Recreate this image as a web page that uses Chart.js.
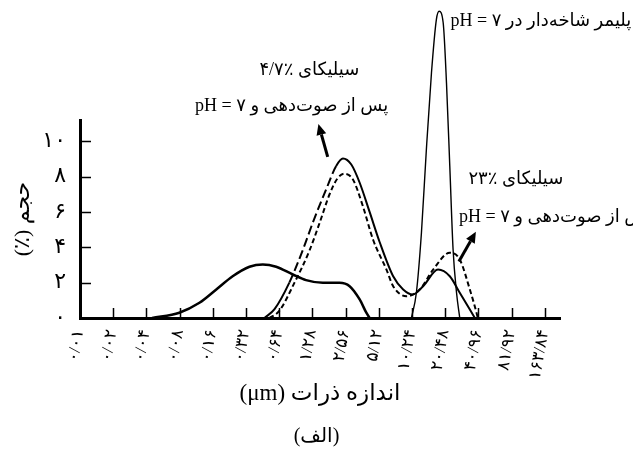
<!DOCTYPE html>
<html lang="fa">
<head>
<meta charset="UTF-8">
<title>توزیع اندازه ذرات</title>
<script src="https://cdn.jsdelivr.net/npm/chart.js"></script>
<style>
  body { margin: 0; background: #fff; }
  canvas { display: block; }
</style>
</head>
<body>
<canvas id="sizeChart" width="633" height="457" dir="rtl"></canvas>
<script>
// محور x: اندازه ذرات (میکرومتر) با گام لگاریتمی
const xTicks = [0.01, 0.02, 0.04, 0.08, 0.16, 0.32, 0.64, 1.28, 2.56, 5.12, 10.24, 20.48, 40.96, 81.92, 163.84];
const xTickLabels = ['۰/۰۱', '۰/۰۲', '۰/۰۴', '۰/۰۸', '۰/۱۶', '۰/۳۲', '۰/۶۴', '۱/۲۸', '۲/۵۶', '۵/۱۲', '۱۰/۲۴', '۲۰/۴۸', '۴۰/۹۶', '۸۱/۹۲', '۱۶۳/۸۴'];
const yTicks = [0, 2, 4, 6, 8, 10];
const yTickLabels = ['۰', '۲', '۴', '۶', '۸', '۱۰'];

// منحنی پهن (خط پیوسته)
const broadX = [0.045, 0.0795, 0.121, 0.171, 0.242, 0.344, 0.454, 0.60, 0.85, 1.12, 1.59, 2.25, 2.78, 3.43, 3.94, 4.22];
const broadY = [0, 0.3, 0.86, 1.6, 2.36, 2.9, 3.03, 2.9, 2.46, 2.14, 1.99, 1.99, 1.8, 1.05, 0.3, 0];

// سیلیکای ۴/۷٪
const silica47X = [0.47, 0.58, 0.79, 1.05, 1.29, 1.71, 2.1, 2.42, 2.88, 3.43, 4.22, 5.2, 6.9, 8.5, 10.4, 12.9, 17.6, 22.5, 27.7, 34.2, 38];
const silica47Y = [0, 0.5, 2.0, 3.87, 5.4, 7.3, 8.6, 9.02, 8.68, 7.65, 6.0, 4.3, 2.36, 1.61, 1.33, 1.8, 2.74, 2.36, 1.43, 0.48, 0];

// سیلیکای ۲۳٪
const silica23X = [0.52, 0.64, 0.88, 1.2, 1.49, 1.83, 2.16, 2.5, 2.98, 3.67, 4.53, 6.0, 6.9, 9.1, 12.0, 15.9, 22.5, 27.7, 34.2, 39.3, 40.4];
const silica23Y = [0, 0.4, 2.0, 3.8, 5.4, 7.0, 7.9, 8.16, 7.83, 6.32, 4.44, 2.74, 1.8, 1.23, 1.61, 2.74, 3.69, 3.31, 1.61, 0.3, 0];

// پلیمر شاخه‌دار
const polymerX = [10.1, 11.2, 12.45, 13.8, 15.35, 17.0, 18.0, 19.6, 21.0, 22.5, 24.1, 25.9, 27.7];
const polymerY = [0, 1.43, 4.82, 9.53, 13.87, 16.88, 17.35, 16.7, 13.3, 8.59, 3.87, 1.43, 0];

// یادداشت‌ها و پیکان‌ها (در مختصات داده)
const notes = [
  { text: 'پلیمر شاخه\u200cدار در pH = ۷', x: 150.7, y: 16.8 },
  { text: 'سیلیکای ٪۴/۷', x: 1.2, y: 14.0 },
  { text: 'پس از صوت\u200cدهی و pH = ۷', x: 0.83, y: 12.0 },
  { text: 'سیلیکای ٪۲۳', x: 89.4, y: 7.82 },
  { text: 'پس از صوت\u200cدهی و pH = ۷', x: 205, y: 5.67 }
];
const arrows = [
  { from: [1.76, 9.11], to: [1.45, 10.98] },
  { from: [27.2, 3.19], to: [38.8, 4.88] }
];

const FONT = "'Liberation Serif', 'DejaVu Sans', serif";
Chart.defaults.font.family = FONT;
Chart.defaults.color = '#000';

const zip = (xs, ys) => xs.map((x, i) => ({ x: x, y: ys[i] }));

const inwardTicks = {
  id: 'inwardTicks',
  afterDraw(chart) {
    const { ctx, chartArea, scales: { x, y } } = chart;
    ctx.save();
    ctx.strokeStyle = '#000';
    ctx.lineWidth = 1.5;
    ctx.beginPath();
    xTicks.slice(1).forEach(v => {
      const px = Math.round(x.getPixelForValue(v)) + 0.5;
      ctx.moveTo(px, chartArea.bottom);
      ctx.lineTo(px, chartArea.bottom - 10);
    });
    yTicks.slice(1).forEach(v => {
      const py = Math.round(y.getPixelForValue(v)) + 0.5;
      ctx.moveTo(chartArea.left, py);
      ctx.lineTo(chartArea.left + 11, py);
    });
    ctx.stroke();
    ctx.restore();
  }
};

function drawArrow(ctx, x1, y1, x2, y2) {
  const a = Math.atan2(y2 - y1, x2 - x1);
  const head = 11, half = 5;
  const bx = x2 - head * Math.cos(a), by = y2 - head * Math.sin(a);
  ctx.beginPath();
  ctx.moveTo(x1, y1);
  ctx.lineTo(bx, by);
  ctx.lineWidth = 3;
  ctx.stroke();
  ctx.beginPath();
  ctx.moveTo(x2, y2);
  ctx.lineTo(bx + half * Math.sin(a), by - half * Math.cos(a));
  ctx.lineTo(bx - half * Math.sin(a), by + half * Math.cos(a));
  ctx.closePath();
  ctx.fill();
}

const annotations = {
  id: 'annotations',
  afterDraw(chart) {
    const { ctx, scales: { x, y } } = chart;
    ctx.save();
    ctx.fillStyle = '#000';
    ctx.strokeStyle = '#000';
    ctx.direction = 'rtl';
    ctx.textAlign = 'center';
    ctx.textBaseline = 'middle';
    ctx.font = '18px ' + FONT;
    notes.forEach(n => {
      ctx.fillText(n.text, x.getPixelForValue(n.x), y.getPixelForValue(n.y));
    });
    arrows.forEach(a => {
      drawArrow(ctx,
        x.getPixelForValue(a.from[0]), y.getPixelForValue(a.from[1]),
        x.getPixelForValue(a.to[0]), y.getPixelForValue(a.to[1]));
    });
    ctx.restore();
  }
};

const common = {
  borderColor: '#000',
  pointRadius: 0,
  fill: false,
  clip: false,
  cubicInterpolationMode: 'monotone'
};

new Chart(document.getElementById('sizeChart'), {
  type: 'line',
  data: {
    datasets: [
      { ...common, label: 'broad', data: zip(broadX, broadY), borderWidth: 2.5 },
      { ...common, label: 'silica 4.7%', data: zip(silica47X, silica47Y), borderWidth: 2,
        segment: { borderDash: c => (c.p0.parsed.x >= 0.7 && c.p1.parsed.x <= 2.1) ? [9, 4] : undefined } },
      { ...common, label: 'silica 23%', data: zip(silica23X, silica23Y), borderWidth: 2, borderDash: [5, 3] },
      { ...common, label: 'polymer', data: zip(polymerX, polymerY), borderWidth: 1.4 }
    ]
  },
  options: {
    responsive: false,
    animation: false,
    layout: { padding: { top: 120, right: 0, left: 0, bottom: 0 } },
    plugins: {
      legend: { display: false },
      tooltip: { enabled: false },
      title: {
        display: true,
        position: 'bottom',
        text: '(الف)',
        color: '#000',
        font: { size: 20, weight: 'normal' },
        padding: { top: 0, bottom: 8 }
      }
    },
    scales: {
      x: {
        type: 'logarithmic',
        min: 0.01,
        max: 224.5,
        afterBuildTicks: s => { s.ticks = xTicks.map(v => ({ value: v })); },
        afterFit: s => { s.height = 107; },
        ticks: {
          autoSkip: false,
          minRotation: 80,
          maxRotation: 80,
          padding: 10,
          labelOffset: -1,
          font: { size: 17 },
          callback: (v, i) => xTickLabels[i]
        },
        grid: { display: true, drawOnChartArea: false, drawTicks: false },
        border: { display: true, color: '#000', width: 3 },
        title: {
          display: true,
          text: 'اندازه ذرات (μm)',
          font: { size: 23 },
          padding: { top: 0, bottom: 17 }
        }
      },
      y: {
        min: 0,
        max: 11.2,
        afterBuildTicks: s => { s.ticks = yTicks.map(v => ({ value: v })); },
        afterFit: s => { s.width = 80; },
        ticks: {
          padding: 14,
          font: { size: 22 },
          callback: (v, i) => yTickLabels[i]
        },
        grid: { display: true, drawOnChartArea: false, drawTicks: false },
        border: { display: true, color: '#000', width: 3 },
        title: {
          display: true,
          text: 'حجم (٪)',
          font: { size: 22 },
          padding: { top: 10, bottom: 0 }
        }
      },
      // فضای خالی سمت راست ناحیه نمودار
      spacer: {
        position: 'right',
        display: true,
        afterFit: s => { s.width = 73; },
        ticks: { display: false },
        grid: { display: false },
        border: { display: false }
      }
    }
  },
  plugins: [inwardTicks, annotations]
});
</script>
</body>
</html>
